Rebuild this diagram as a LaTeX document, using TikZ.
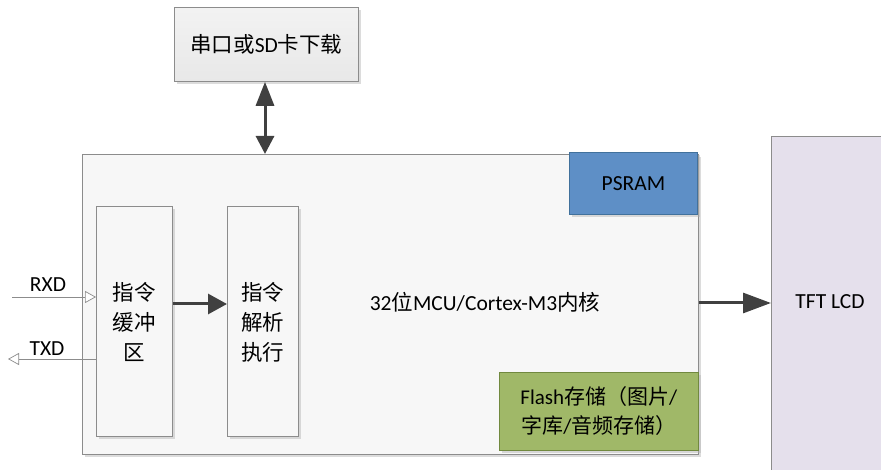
\documentclass[tikz,border=0pt]{standalone}
\usepackage{fontspec}
\setmainfont{Carlito}
\newfontfamily\cjk{Noto Sans CJK SC}
\usetikzlibrary{arrows.meta,shadows}
\definecolor{edge}{HTML}{8C8C8C}
\definecolor{darkarr}{HTML}{404040}
\definecolor{psramfill}{HTML}{5E8FC6}
\definecolor{psramedge}{HTML}{41719C}
\definecolor{flashfill}{HTML}{A0B868}
\definecolor{flashedge}{HTML}{71893F}
\definecolor{tftfill}{HTML}{E5E0EC}
\definecolor{lightfill}{HTML}{F7F7F7}
\tikzset{
  box/.style={draw=edge, line width=0.8pt, fill=lightfill, inner sep=0pt},
  shadowed/.style={drop shadow={shadow xshift=3pt,shadow yshift=-3pt,fill=black!30,opacity=0.45}},
  bigarrow/.style={draw=darkarr, line width=3pt, -{Triangle[length=#1,width=20pt]}},
  sigline/.style={draw=edge, line width=0.7pt, -{Triangle[open,length=11pt,width=12pt,fill=white]}},
  lbl/.style={font=\fontsize{21.5}{24}\selectfont, text=black}
}
\begin{document}
\begin{tikzpicture}[x=1pt,y=-1pt]
\useasboundingbox (0,0) rectangle (881,470);
% top box
\node[box, shadowed, top color=white!95!black, bottom color=black!9, minimum width=184pt, minimum height=74pt, anchor=north west] (dl) at (174,7) {};
\node[font=\fontsize{21.5}{24}\selectfont] (dlt) at (dl.center) {\cjk 串口或{\rmfamily SD}卡下载};
% main box
\node[box, shadowed, minimum width=616pt, minimum height=300pt, anchor=north west] (mcu) at (82,154) {};
\node[lbl, font=\fontsize{21.5}{24}\selectfont] (mcut) at (485,302) {32{\cjk 位}MCU/Cortex-M3{\cjk 内核}};
% PSRAM
\node[draw=psramedge, fill=psramfill, line width=0.8pt, shadowed, minimum width=128pt, minimum height=62pt, anchor=north west] (ps) at (569,152) {};
\node[lbl] (pst) at (ps.center) {PSRAM};
% Flash
\node[draw=flashedge, fill=flashfill, line width=0.8pt, shadowed, minimum width=199pt, minimum height=78pt, anchor=north west] (fl) at (499,372) {};
\node[font=\fontsize{21}{29}\selectfont, align=center] (flt) at (fl.center) {Flash{\cjk 存储（图片}/\\{\cjk 字库}/{\cjk 音频存储）}};
% TFT
\node[draw=edge, fill=tftfill, line width=0.8pt, minimum width=112pt, minimum height=336pt, anchor=north west] (tft) at (771,136) {};
\node[lbl] (tftt) at (830,302) {TFT LCD};
% buffer and parse
\node[box, shadowed, fill=white!97!black, minimum width=76pt, minimum height=230pt, anchor=north west] (buf) at (96,206) {};
\node[font=\fontsize{21.5}{30}\selectfont, align=center] (buft) at (134,322) {\cjk 指令\\ \cjk 缓冲\\ \cjk 区};
\node[box, shadowed, fill=white!97!black, minimum width=71pt, minimum height=230pt, anchor=north west] (par) at (227,206) {};
\node[font=\fontsize{21.5}{30}\selectfont, align=center] (part) at (262.5,322) {\cjk 指令\\ \cjk 解析\\ \cjk 执行};
% arrows
\draw[draw=darkarr, line width=3pt, {Triangle[length=24pt,width=18pt]}-{Triangle[length=18pt,width=18pt]}] (dl.south -| 265,0) -- (mcu.north -| 265,0);
\draw[bigarrow=19pt] (buf.east |- 0,304) -- (par.west |- 0,304);
\draw[bigarrow=28pt] (mcu.east |- 0,303) -- (tft.west |- 0,303);
% RXD / TXD
\coordinate (rxs) at (12,297);
\coordinate (txe) at (8,359);
\draw[sigline] (rxs) -- (buf.west |- rxs);
\draw[sigline] (buf.west |- txe) -- (txe);
\node[lbl] (rxl) at (48,285) {RXD};
\node[lbl] (txl) at (47,349) {TXD};
\end{tikzpicture}
\end{document}
